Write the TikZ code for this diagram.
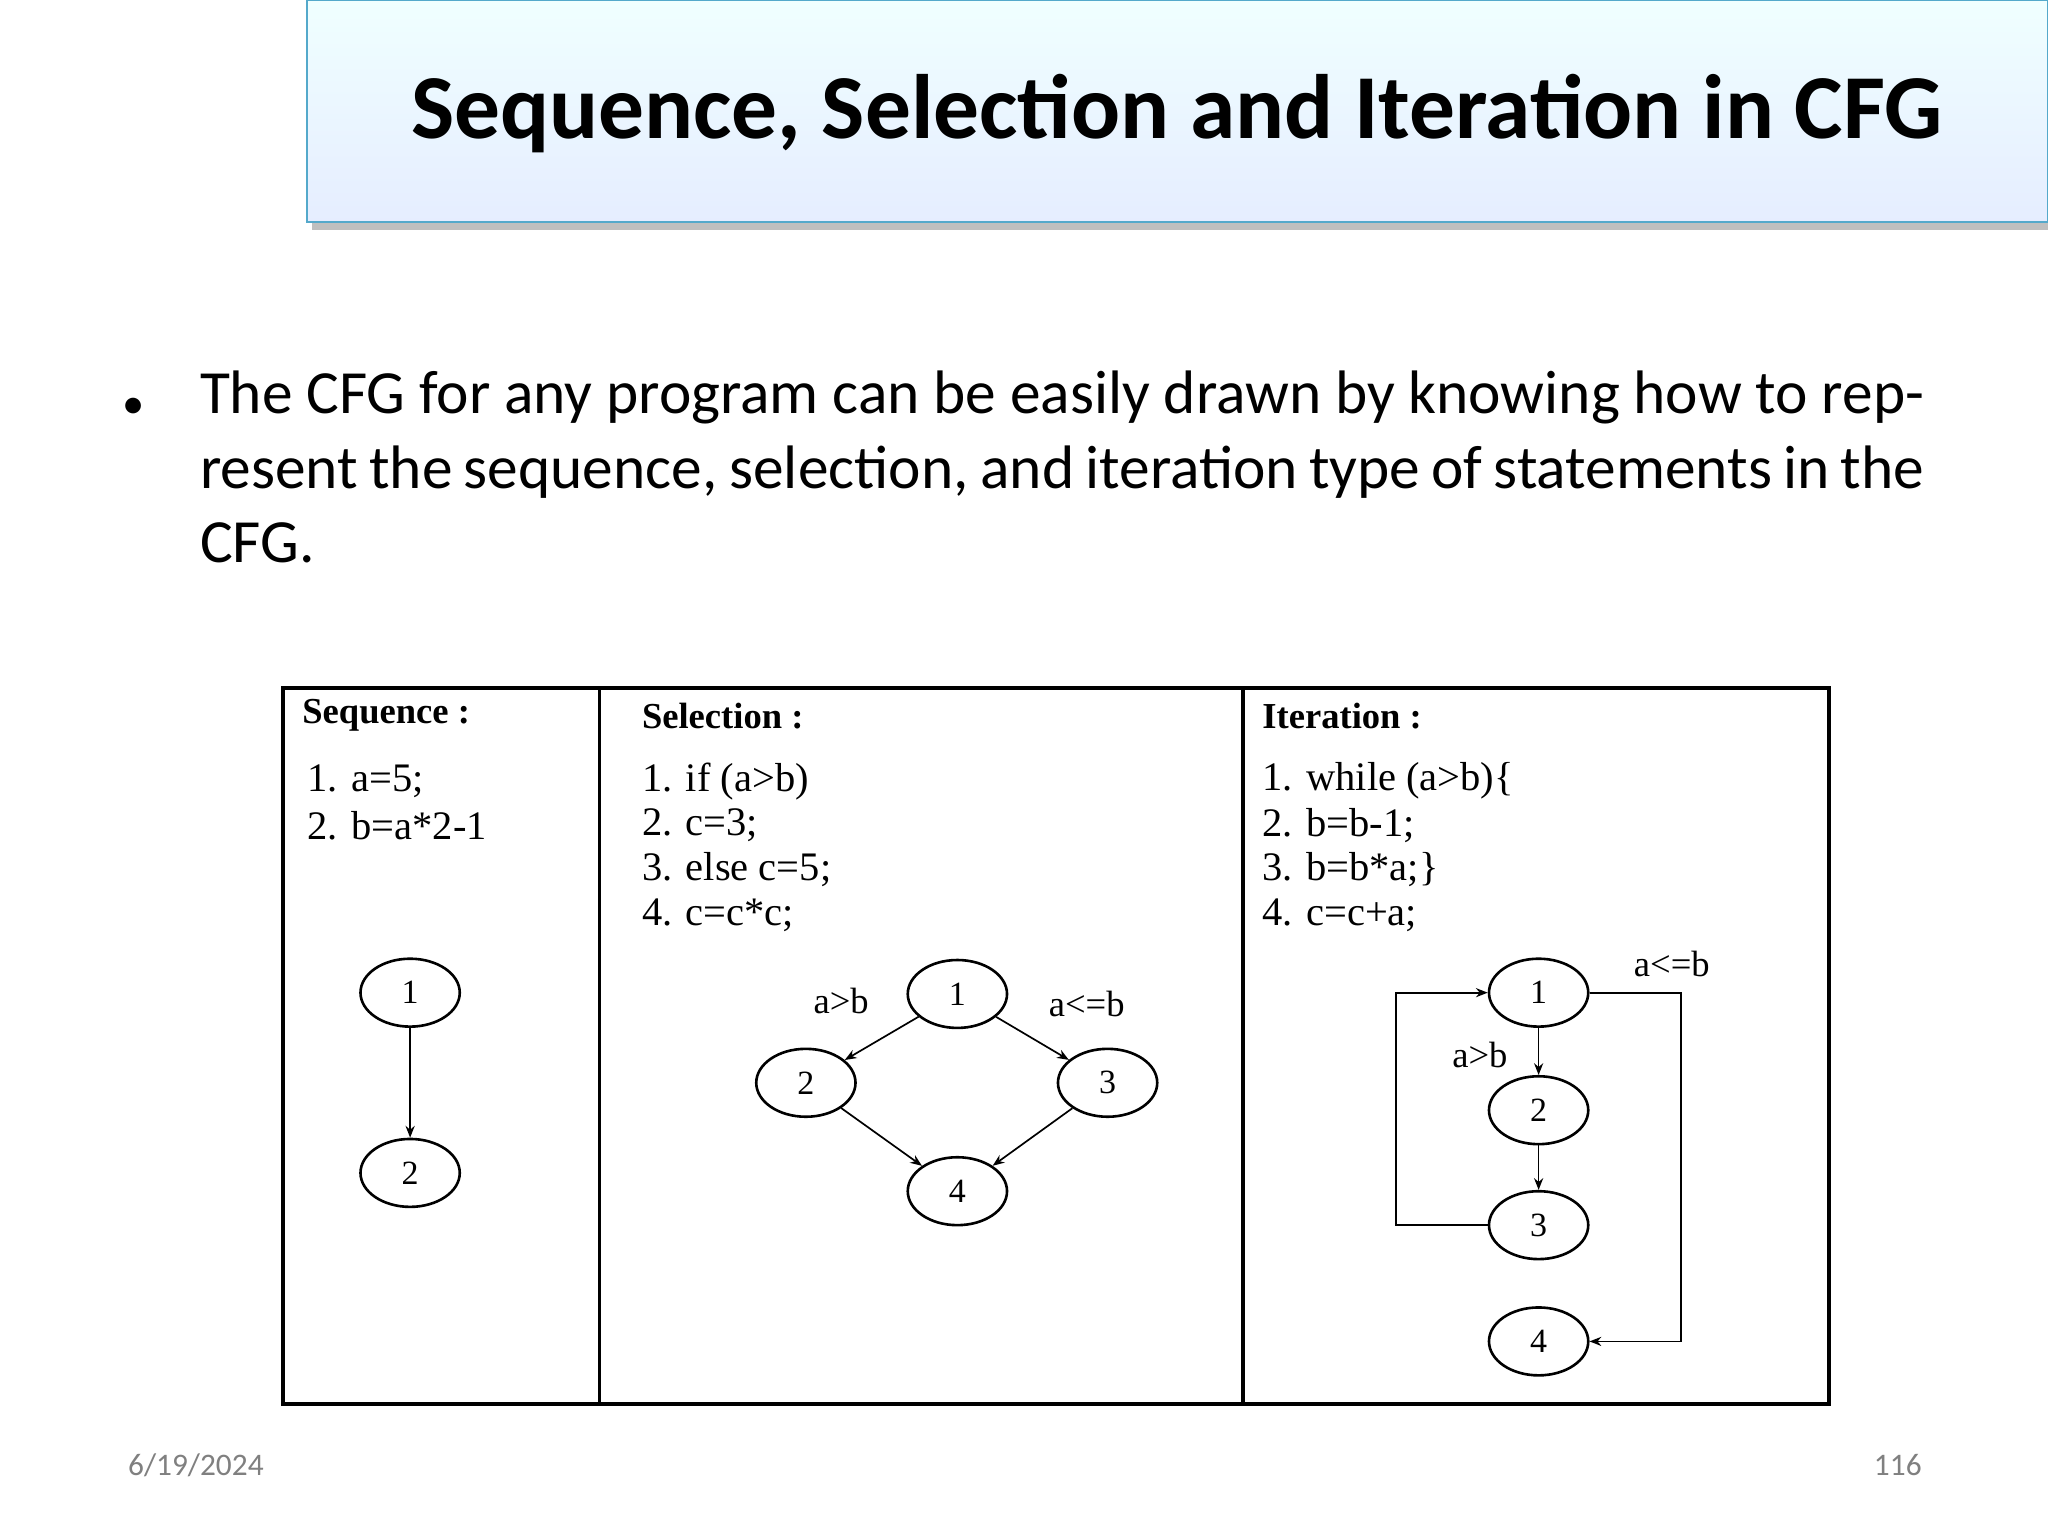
\documentclass[tikz,border=0pt]{standalone}
\usepackage{fontspec}
\setmainfont{Liberation Serif}
\newfontfamily\slidefont{Carlito}
\usetikzlibrary{arrows.meta,shadows,shapes.geometric}
\begin{document}
\begin{tikzpicture}[x=1pt,y=-1pt,
  st/.style={draw,line width=2pt,ellipse,minimum width=76pt,minimum height=52pt,inner sep=0pt,font=\fontsize{26}{28}\selectfont},
  ar/.style={-{Stealth[length=9pt,width=7pt]},line width=1.3pt},
  code/.style={anchor=west,font=\fontsize{31}{34}\selectfont},
  head/.style={anchor=west,font=\bfseries\fontsize{28}{30}\selectfont},
  lab/.style={font=\fontsize{28}{30}\selectfont}]
\useasboundingbox (0,0) rectangle (1568,1176);
\fill[white] (0,0) rectangle (1568,1176);
% title
\fill[gray!50] (239,6) rectangle (1572,176);
\shade[top color=cyan!6,bottom color=cyan!30!blue!10!white,draw=cyan!60!gray,line width=1pt] (235,0) rectangle (1568,170);
\node[font=\slidefont\bfseries\fontsize{70}{76}\selectfont] (title) at (901,87) {Sequence, Selection and Iteration in CFG};
% bullet
\node[font=\slidefont\fontsize{34}{34}\selectfont] (bul) at (102,313) {•};
\node[anchor=north west,text width=1320pt,align=justify,inner sep=0pt,font=\slidefont\fontsize{47}{57}\selectfont] (txt) at (153,284)
 {The CFG for any program can be easily drawn by knowing how to represent the sequence, selection, and iteration type of statements in the CFG.};
% frame
\draw[line width=3pt] (217,527) rectangle (1400,1075);
\draw[line width=3pt] (459,527) -- (459,1075);
\draw[line width=3pt] (952,527) -- (952,1075);
% sequence
\node[head] (h1) at (228,548) {Sequence :};
\node[code] (s1) at (232,598) {1. a=5;};
\node[code] (s2) at (232,632) {2. b=a*2-1};
\node[st] (a1) at (314,760) {1};
\node[st] (a2) at (314,898) {2};
\draw[ar] (a1) -- (a2);
% selection
\node[head] (h2) at (488,548) {Selection :};
\node[code] (c1) at (488,598) {1. if (a>b)};
\node[code] (c2) at (488,632) {2. c=3;};
\node[code] (c3) at (488,666) {3. else c=5;};
\node[code] (c4) at (488,701) {4. c=c*c;};
\node[st] (b1) at (733,761) {1};
\node[st] (b2) at (617,829) {2};
\node[st] (b3) at (848,829) {3};
\node[st] (b4) at (733,912) {4};
\draw[ar] (b1) -- (b2);
\draw[ar] (b1) -- (b3);
\draw[ar] (b2) -- (b4);
\draw[ar] (b3) -- (b4);
\node[lab] (l1) at (644,766) {a>b};
\node[lab] (l2) at (832,769) {a<=b};
% iteration
\node[head] (h3) at (963,548) {Iteration :};
\node[code] (i1) at (963,598) {1. while (a>b)\{};
\node[code] (i2) at (963,632) {2. b=b-1;};
\node[code] (i3) at (963,666) {3. b=b*a;\}};
\node[code] (i4) at (963,701) {4. c=c+a;};
\node[st] (d1) at (1178,760) {1};
\node[st] (d2) at (1178,850) {2};
\node[st] (d3) at (1178,938) {3};
\node[st] (d4) at (1178,1027) {4};
\draw[ar] (d1) -- (d2);
\draw[ar] (d2) -- (d3);
\draw[ar] (d3.west) -- (1069,938) -- (1069,760) -- (d1.west);
\draw[ar] (d1.east) -- (1287,760) -- (1287,1027) -- (d4.east);
\node[lab] (l3) at (1280,738) {a<=b};
\node[lab] (l4) at (1133,808) {a>b};
% footer
\node[font=\slidefont\fontsize{24}{26}\selectfont,text=gray] (f1) at (150,1122) {6/19/2024};
\node[font=\slidefont\fontsize{24}{26}\selectfont,text=gray] (f2) at (1453,1122) {116};
\end{tikzpicture}
\end{document}
